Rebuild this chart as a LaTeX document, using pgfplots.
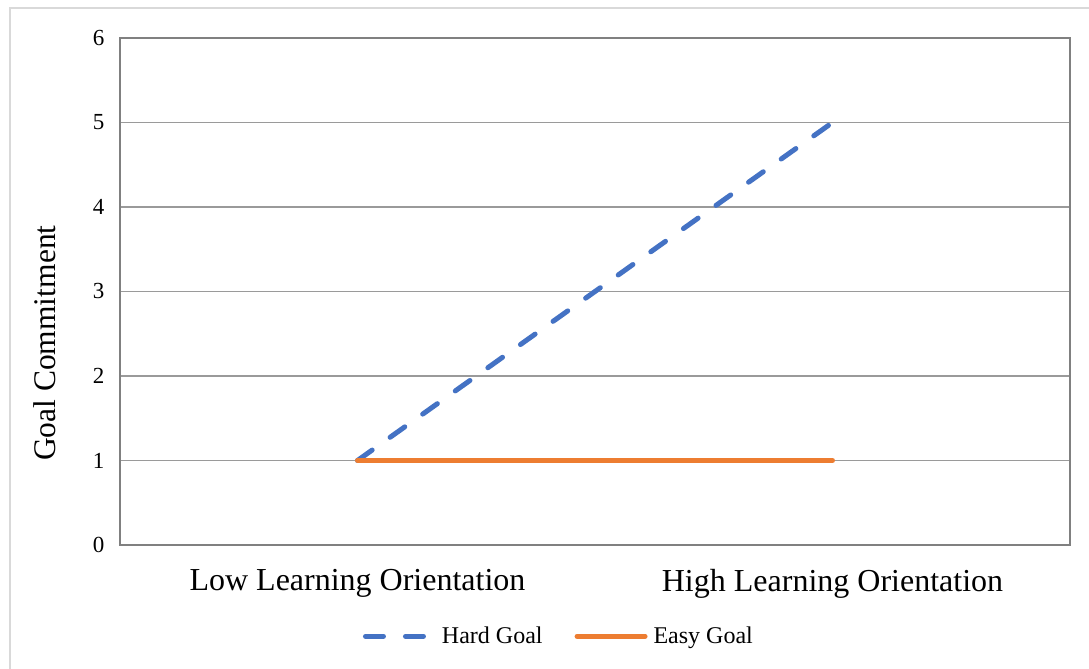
\documentclass[border=0pt]{standalone}
\usepackage{pgfplots}
\pgfplotsset{compat=1.18}
\usepackage{fontspec}
\setmainfont{Liberation Serif}
\definecolor{hardblue}{HTML}{4472C4}
\definecolor{easyorange}{HTML}{ED7D31}
\definecolor{gridgray}{HTML}{9A9A9A}
\definecolor{framegray}{HTML}{D9D9D9}
\begin{document}
\begin{tikzpicture}[x=1bp,y=1bp]
\path[use as bounding box] (0,0) rectangle (1089,669);
\fill[white] (0,0) rectangle (1089,669);
\draw[framegray, line width=2bp] (10,0) -- (10,661) -- (1089,661);
\begin{axis}[
  at={(120bp,124bp)}, anchor=south west,
  width=950bp, height=507bp, scale only axis,
  xmin=-0.5, xmax=1.5, ymin=0, ymax=6,
  xtick={0,1}, xticklabels={Low Learning Orientation, High Learning Orientation},
  ytick={0,1,2,3,4,5,6},
  major tick length=0pt,
  axis line style={draw=gray, line width=1.6bp},
  ymajorgrids, grid style={gridgray, line width=1.4bp},
  /pgf/number format/assume math mode=true,
  yticklabel style={font=\fontsize{23bp}{25bp}\selectfont, xshift=-12bp},
  xticklabel style={font=\fontsize{32bp}{34bp}\selectfont, yshift=-21bp},
  ylabel={Goal Commitment},
  ylabel style={font=\fontsize{31.5bp}{34bp}\selectfont, at={(axis description cs:-0.079,0.398)}, anchor=center, rotate=0},
  legend columns=2,
  legend style={at={(0.462,-0.18)}, anchor=center, draw=none, fill=none,
    font=\fontsize{24bp}{26bp}\selectfont,
    /tikz/every odd column/.append style={column sep=4bp},
    /tikz/every even column/.append style={column sep=30bp}},
  legend image code/.code={\draw[#1] (0bp,0bp) -- (68bp,0bp);},
]
\addplot[hardblue, line width=5bp, line cap=round, dash pattern=on 18bp off 22bp] coordinates {(0,1) (1,5)};
\addlegendentry{Hard Goal}
\addplot[easyorange, line width=5bp, line cap=round] coordinates {(0,1) (1,1)};
\addlegendentry{Easy Goal}
\end{axis}
\end{tikzpicture}
\end{document}
